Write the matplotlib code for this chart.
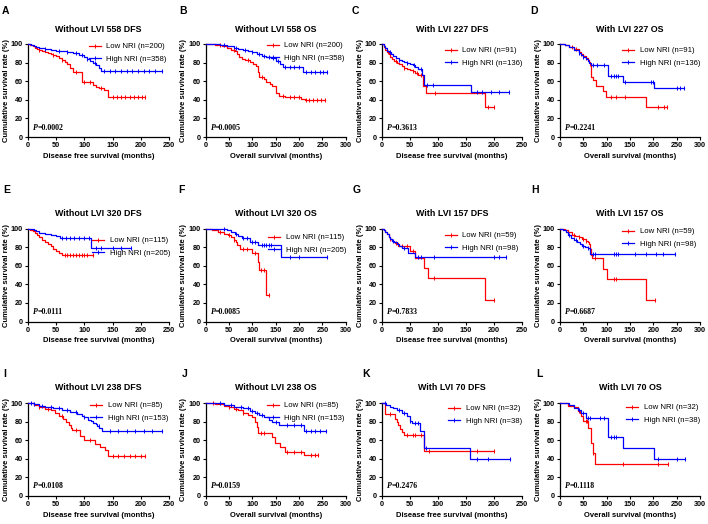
import numpy as np
import matplotlib
matplotlib.use("Agg")
import matplotlib.pyplot as plt
from matplotlib.lines import Line2D

# ---------------- panel meta data ----------------
letters = list("ABCDEFGHIJKL")
titles = ["Without LVI 558 DFS", "Without LVI 558 OS", "With LVI 227 DFS", "With LVI 227 OS",
          "Without LVI 320 DFS", "Without LVI 320 OS", "With LVI 157 DFS", "With LVI 157 OS",
          "Without LVI 238 DFS", "Without LVI 238 OS", "With LVI 70 DFS", "With LVI 70 OS"]
xlabels = ["Disease free survival (months)", "Overall survival (months)"] * 6
xmaxs = [250, 300, 250, 300] * 3
p_values = ["0.0002", "0.0005", "0.3613", "0.2241",
            "0.0111", "0.0085", "0.7833", "0.6687",
            "0.0108", "0.0159", "0.2476", "0.1118"]
low_n = [200, 200, 91, 91, 115, 115, 59, 59, 85, 85, 32, 32]
high_n = [358, 358, 136, 136, 205, 205, 98, 98, 153, 153, 38, 38]

# ---------------- curves (event times, survival %, end time, censor times) ----------------
A_low_t = [0, 4, 8, 12, 16, 20, 25, 30, 35, 40, 45, 50, 55, 60, 65, 70, 75, 80, 95, 115, 120, 125, 135, 142]
A_low_s = [100, 99, 98, 96, 95, 94, 92, 91, 90, 89, 88, 87, 85, 83, 81, 78, 74, 69.5, 59.5, 56, 54, 52.5, 50.5, 43]
A_low_end = 208
A_low_c = [20, 45, 60, 85, 100, 110, 130, 150, 158, 165, 172, 180, 188, 195, 202, 208]
A_high_t = [0, 5, 10, 15, 20, 30, 40, 50, 60, 70, 80, 90, 100, 105, 110, 115, 120, 125, 130]
A_high_s = [100, 99, 98, 97, 96, 95, 94, 93, 92, 91, 90, 88, 86, 84, 82, 80, 77, 74, 71]
A_high_end = 238
A_high_c = [30, 55, 70, 85, 95, 105, 118, 135, 145, 155, 165, 175, 185, 195, 205, 215, 225, 238]

B_low_t = [0, 20, 35, 45, 55, 62, 68, 72, 78, 85, 95, 102, 108, 112, 115, 125, 130, 137, 143, 150, 158, 170, 205, 213]
B_low_s = [100, 99, 98, 96, 94, 92, 89, 86, 84, 83, 81, 79, 76, 70, 64, 62, 59, 57, 55, 47, 44, 43, 41, 40]
B_low_end = 255
B_low_c = [30, 60, 90, 120, 165, 180, 190, 200, 215, 222, 230, 238, 246, 255]
B_high_t = [0, 15, 30, 45, 60, 70, 80, 90, 100, 110, 120, 130, 140, 150, 160, 165, 208]
B_high_s = [100, 99.5, 99, 98, 96, 95, 94, 93, 91, 89, 87, 86, 85, 82, 78, 75, 70]
B_high_end = 260
B_high_c = [40, 65, 85, 100, 115, 125, 135, 145, 155, 170, 180, 190, 200, 215, 225, 235, 245, 252, 260]

C_low_t = [0, 3, 6, 9, 12, 15, 18, 22, 26, 30, 35, 40, 45, 50, 55, 60, 65, 74, 79, 185]
C_low_s = [100, 97, 94, 91, 89, 86, 84, 82, 80, 78, 76, 74, 73, 72, 71, 69, 67, 55, 47.5, 32]
C_low_end = 200
C_low_c = [10, 25, 40, 55, 62, 70, 95, 190, 200]
C_high_t = [0, 3, 6, 9, 12, 16, 20, 25, 30, 35, 40, 45, 50, 55, 60, 65, 72, 76, 159]
C_high_s = [100, 98, 96, 93, 91, 89, 87, 85, 83, 82, 81, 80, 79, 77, 75, 73, 67, 56, 48.5]
C_high_end = 228
C_high_c = [15, 30, 45, 58, 70, 80, 92, 170, 180, 195, 210, 228]

D_low_t = [0, 10, 20, 30, 40, 45, 50, 55, 60, 63, 65, 67, 70, 77, 92, 99, 185]
D_low_s = [100, 99, 97, 95, 91, 89, 87, 85, 83, 81, 78, 65, 61, 55, 49, 43, 32]
D_low_end = 230
D_low_c = [25, 35, 45, 55, 65, 110, 120, 140, 210, 222, 230]
D_high_t = [0, 10, 20, 30, 40, 45, 50, 55, 60, 63, 66, 103, 135, 202]
D_high_s = [100, 99, 97, 94, 90, 88, 86, 84, 82, 80, 77, 65.5, 59.5, 52.5]
D_high_end = 266
D_high_c = [40, 50, 70, 80, 95, 110, 115, 120, 125, 140, 195, 200, 250, 258, 266]

E_low_t = [0, 4, 8, 12, 16, 20, 25, 30, 35, 40, 45, 50, 55, 60]
E_low_s = [100, 98.5, 97, 95, 93, 91, 88, 85, 83, 81, 78, 76, 74, 72]
E_low_end = 115
E_low_c = [65, 70, 75, 80, 85, 90, 95, 100, 105, 115]
E_high_t = [0, 5, 10, 15, 20, 30, 40, 50, 57, 112]
E_high_s = [100, 99, 98, 97, 95, 94, 93, 92, 89.5, 79]
E_high_end = 182
E_high_c = [60, 68, 75, 82, 90, 100, 108, 120, 130, 150, 165, 182]

F_low_t = [0, 13, 27, 40, 48, 55, 60, 64, 68, 74, 99, 112, 114, 130]
F_low_s = [100, 98, 96.5, 94, 93, 91, 88, 85, 82, 78, 74, 64, 55, 28]
F_low_end = 135
F_low_c = [30, 50, 60, 80, 88, 105, 118, 125, 135]
F_high_t = [0, 15, 30, 45, 55, 63, 70, 78, 96, 112, 162]
F_high_s = [100, 99.5, 99, 98, 96, 94.5, 92, 89.5, 86, 82, 69]
F_high_end = 260
F_high_c = [40, 65, 80, 88, 100, 105, 120, 125, 130, 135, 140, 180, 200, 260]

G_low_t = [0, 3, 6, 9, 12, 15, 18, 21, 24, 28, 50, 60, 76, 82, 184]
G_low_s = [100, 98, 96, 94, 91, 89, 87, 86, 84, 81, 76, 68, 58, 46.5, 23]
G_low_end = 200
G_low_c = [15, 25, 35, 45, 55, 93, 200]
G_high_t = [0, 3, 6, 9, 12, 15, 18, 22, 26, 30, 35, 47, 60]
G_high_s = [100, 98, 96, 94, 91, 89, 87, 85, 83, 81, 79, 74, 69]
G_high_end = 222
G_high_c = [20, 40, 65, 70, 93, 200, 210, 222]

H_low_t = [0, 10, 18, 25, 32, 40, 48, 55, 60, 63, 65, 67, 68, 92, 101, 185]
H_low_s = [100, 98.5, 96, 93, 92, 91, 89, 87, 86, 83, 78, 72, 68, 56, 45.5, 22.6]
H_low_end = 203
H_low_c = [30, 40, 50, 55, 75, 115, 120, 203]
H_high_t = [0, 6, 12, 18, 24, 30, 36, 42, 48, 54, 60, 65]
H_high_s = [100, 98.5, 96, 93, 90, 88, 85, 83, 81, 80, 79, 73]
H_high_end = 246
H_high_c = [20, 35, 50, 60, 70, 75, 115, 120, 125, 160, 185, 205, 220, 246]

I_low_t = [0, 10, 20, 30, 40, 48, 55, 62, 68, 72, 76, 78, 93, 99, 119, 128, 137, 142]
I_low_s = [100, 98, 95.5, 94, 92.5, 89, 86, 83, 80, 76, 73, 71, 65, 60, 56, 52.5, 49, 43.5]
I_low_end = 208
I_low_c = [20, 35, 60, 85, 110, 150, 160, 170, 180, 190, 200, 208]
I_high_t = [0, 10, 20, 30, 45, 60, 75, 87, 95, 100, 107, 112, 116, 120, 123, 126, 131]
I_high_s = [100, 99, 97, 96, 94.5, 92, 90.5, 88, 86, 84.5, 82, 80.5, 79, 77, 75, 73, 70]
I_high_end = 238
I_high_c = [5, 10, 25, 40, 55, 70, 85, 100, 125, 145, 160, 175, 190, 205, 220, 238]

J_low_t = [0, 20, 40, 50, 60, 70, 80, 90, 100, 105, 110, 113, 141, 148, 159, 170, 211]
J_low_s = [100, 99, 97, 95.5, 94, 93, 89, 87.5, 85, 80, 74, 68, 63.5, 57, 53, 47.5, 44]
J_low_end = 241
J_low_c = [15, 50, 65, 80, 118, 125, 175, 190, 205, 225, 235, 241]
J_high_t = [0, 20, 40, 60, 80, 95, 105, 115, 125, 135, 142, 156, 211]
J_high_s = [100, 99.5, 98, 96, 94.5, 91.5, 89, 87, 85, 82, 79.5, 76.5, 70]
J_high_end = 257
J_high_c = [30, 55, 75, 90, 100, 110, 120, 150, 175, 190, 205, 215, 225, 235, 245, 257]

K_low_t = [0, 5, 23, 26, 29, 32, 36, 40, 75]
K_low_s = [100, 88, 83, 79.5, 76, 72.5, 69, 65.5, 48]
K_low_end = 200
K_low_c = [15, 45, 55, 60, 70, 85, 170, 200]
K_high_t = [0, 8, 14, 20, 26, 35, 44, 50, 53, 68, 76, 158]
K_high_s = [100, 98, 96, 94.5, 93, 89, 85.5, 81, 78.5, 69.5, 52, 39.5]
K_high_end = 230
K_high_c = [5, 30, 40, 50, 60, 65, 78, 170, 190, 230]

L_low_t = [0, 17, 31, 38, 42, 45, 49, 60, 67, 70, 74]
L_low_s = [100, 97, 95.4, 91, 89, 85.7, 80.4, 73, 57, 46, 34]
L_low_end = 232
L_low_c = [40, 55, 58, 70, 135, 210, 232]
L_high_t = [0, 20, 31, 38, 45, 56, 103, 135, 201]
L_high_s = [100, 98, 94.6, 92.9, 89, 84, 63, 52, 39.5]
L_high_end = 268
L_high_c = [40, 50, 60, 65, 85, 95, 110, 115, 120, 210, 250, 268]

g = globals()
curves = {}
for L in letters:
    curves[L] = {k: (g[f"{L}_{k}_t"], g[f"{L}_{k}_s"], g[f"{L}_{k}_end"], g[f"{L}_{k}_c"])
                 for k in ("low", "high")}

# ---------------- layout (pixels) ----------------
W_PX, H_PX = 708, 524
col_left = [28, 205.7, 382, 560]
col_width = [141, 140, 139.5, 140]
row_top = [44, 228.5, 403]
ax_h = 93
letter_pos = [(2, 11.5), (179, 11.5), (352, 11.5), (530, 11.5),
              (3, 190), (178, 190), (353, 190), (531, 190),
              (3, 374), (182, 374), (362, 374), (536, 374)]
title_y = [30, 213, 387.7]
legend_pos = [(89, 47), (267, 46), (445, 51), (622, 51),
              (92, 241), (268, 238), (445, 236), (622, 232),
              (90, 406), (267, 406), (448, 409), (626, 408)]

RED = "#ff0000"
BLUE = "#0000ff"
SANS = ["Liberation Sans", "DejaVu Sans"]
SERIF = ["Liberation Serif", "DejaVu Serif"]

fig = plt.figure(figsize=(W_PX / 100, H_PX / 100), dpi=100)
fig.patch.set_facecolor("white")


def fx(px):
    return px / W_PX


def fy(py):
    return 1 - py / H_PX


for i, L in enumerate(letters):
    r, c = divmod(i, 4)
    left, width, top = col_left[c], col_width[c], row_top[r]
    ax = fig.add_axes([fx(left), fy(top + ax_h), width / W_PX, ax_h / H_PX])
    xmax = xmaxs[i]
    for key, color in (("low", RED), ("high", BLUE)):
        t, s, end, cens = curves[L][key]
        tt = np.array(list(t) + [end], dtype=float)
        ss = np.array(list(s) + [s[-1]], dtype=float)
        ax.step(tt, ss, where="post", color=color, lw=0.9, clip_on=False, zorder=3)
        idx = np.searchsorted(np.array(t, dtype=float), np.array(cens, dtype=float), side="right") - 1
        cy = np.array(s, dtype=float)[idx]
        ax.plot(cens, cy, ls="none", marker="|", ms=2.8, mew=0.7, color=color, clip_on=False, zorder=3)
    ax.set_xlim(0, xmax)
    ax.set_ylim(0, 100)
    ax.set_xticks(np.arange(0, xmax + 1, 50))
    ax.set_yticks(np.arange(0, 101, 20))
    for sp in ("top", "right"):
        ax.spines[sp].set_visible(False)
    for sp in ("left", "bottom"):
        ax.spines[sp].set_linewidth(0.9)
    ax.tick_params(direction="out", length=2.5, width=0.8, pad=1.2, labelsize=5.2)
    for lab in ax.get_xticklabels() + ax.get_yticklabels():
        lab.set_fontfamily(SANS)
        lab.set_fontweight("bold")
    # axis labels
    ax.text(0.5, -19.5 / ax_h, xlabels[i], transform=ax.transAxes, ha="center", va="center",
            fontsize=5.5, fontweight="bold", family=SANS)
    ax.text(-22 / width, 0.5, "Cumulative survival rate (%)", transform=ax.transAxes, ha="center",
            va="center", rotation=90, fontsize=5.5, fontweight="bold", family=SANS)
    # title
    fig.text(fx(left + width / 2), fy(title_y[r]), titles[i], ha="center", va="center",
             fontsize=6.4, fontweight="bold", family=SANS)
    # panel letter
    lx, ly = letter_pos[i]
    fig.text(fx(lx), fy(ly), L, ha="left", va="center", fontsize=7.5, fontweight="bold", family=SANS)
    # p value
    ax.text(5 / width, 9.5 / ax_h, "P", transform=ax.transAxes, ha="left", va="center",
            fontsize=5.7, fontweight="bold", style="italic", family=SERIF)
    ax.text(9.2 / width, 9.5 / ax_h, "=" + p_values[i], transform=ax.transAxes,
            ha="left", va="center", fontsize=5.7, fontweight="bold", family=SERIF)
    # legend
    handles = [Line2D([], [], color=RED, lw=0.9, marker="|", ms=2.8, mew=0.7),
               Line2D([], [], color=BLUE, lw=0.9, marker="|", ms=2.8, mew=0.7)]
    labels = [f"Low NRI (n={low_n[i]})", f"High NRI (n={high_n[i]})"]
    gx, gy = legend_pos[i]
    ax.legend(handles, labels, loc="upper left", bbox_to_anchor=(fx(gx), fy(gy - 4)),
              bbox_transform=fig.transFigure, frameon=False, borderpad=0, borderaxespad=0,
              handlelength=1.55, handletextpad=0.7, labelspacing=0.6,
              prop={"family": SANS, "size": 5.6})

fig.savefig("out.png", dpi=100, facecolor="white")
